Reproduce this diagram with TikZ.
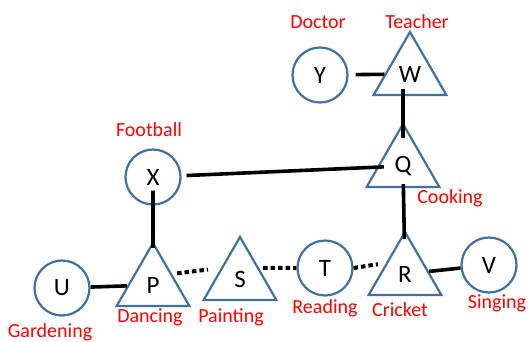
\documentclass[tikz,border=0pt]{standalone}
\usepackage{fontspec}
\setmainfont{Carlito}
\usetikzlibrary{shapes.geometric}
\definecolor{shapeblue}{HTML}{41719C}

\begin{document}
\begin{tikzpicture}[x=1pt,y=-1pt,
  circ/.style={circle,draw=shapeblue,line width=2.2pt,minimum size=55pt,inner sep=0pt,font=\fontsize{25}{25}\selectfont},
  tri/.style={regular polygon,regular polygon sides=3,draw=shapeblue,line width=2.2pt,minimum size=84pt,inner sep=0pt,font=\fontsize{25}{25}\selectfont},
  lab/.style={text=red,anchor=base,inner sep=0pt,font=\fontsize{20}{20}\selectfont},
  link/.style={line width=3.6pt},
  dots/.style={line width=4pt,dash pattern=on 4.5pt off 3pt}]
  \useasboundingbox (0,0) rectangle (528,341);
  % hobbies and jobs
  \node[circ] (Y) at (320,75) {Y}; \node[tri] (W) at (410,74) {W};
  \node[tri] (Q) at (403,166) {Q}; \node[circ] (X) at (153,177) {X};
  \node[circ] (U) at (62,288) {U}; \node[tri] (P) at (153,285) {P};
  \node[tri] (S) at (240,279) {S}; \node[circ] (T) at (325,268) {T};
  \node[tri] (R) at (405,274) {R}; \node[circ] (V) at (489,265) {V};
  \node[lab] (lY) at (318,28) {Doctor}; \node[lab] (lW) at (417,28) {Teacher};
  \node[lab] (lX) at (149,136) {Football}; \node[lab] (lQ) at (450,203) {Cooking};
  \node[lab] (lU) at (50,337) {Gardening}; \node[lab] (lP) at (150,322) {Dancing};
  \node[lab] (lS) at (231,322) {Painting}; \node[lab] (lT) at (325,313) {Reading};
  \node[lab] (lR) at (400,316) {Cricket}; \node[lab] (lV) at (497,308) {Singing};
  % links
  \draw[link,shorten <=7pt] (Y)--(W);
  \draw[link,shorten <=-7pt,shorten >=-16pt] (Q.north |- W.south)--(Q.north);
  \draw[link,shorten <=-4pt,shorten >=-8pt] (Q)--(R);
  \draw[link,shorten <=5pt,shorten >=-7pt] (X)--(Q);
  \draw[link,shorten <=-15pt,shorten >=-7pt] (X)--(P);
  \draw[link] (U)--(P); \draw[link] (R)--(V);
  \draw[dots,shorten <=5pt,shorten >=13pt] (P.side 3)--(S.side 1);
  \draw[dots,shorten <=4pt] (S.side 3)--(T.west);
  \draw[dots,shorten >=8pt] (T.east)--(R.side 1);
\end{tikzpicture}
\end{document}
